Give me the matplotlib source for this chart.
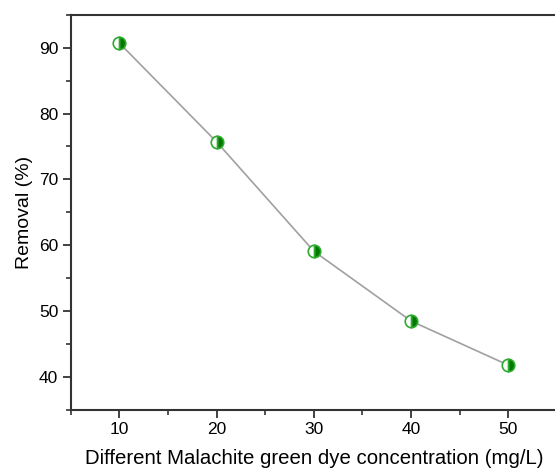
import matplotlib
matplotlib.use("Agg")
import matplotlib.pyplot as plt
from matplotlib.ticker import MultipleLocator

# Data
concentration = [10, 20, 30, 40, 50]
removal = [90.7, 75.7, 59.1, 48.5, 41.8]

plt.rcParams['font.family'] = ['Liberation Sans', 'DejaVu Sans']

fig = plt.figure(figsize=(5.55, 4.7), dpi=100)
ax = fig.add_axes([0.1274, 0.1277, 0.8762, 0.841])

ax.plot(concentration, removal, color='#a0a0a0', linewidth=1.2,
        marker='o', markersize=9, fillstyle='right',
        markerfacecolor='#007a00', markerfacecoloralt='white',
        markeredgecolor='#2eaa2e', markeredgewidth=1.2, zorder=3)

ax.set_xlim(5, 55)
ax.set_ylim(35, 95)
ax.xaxis.set_major_locator(MultipleLocator(10))
ax.xaxis.set_minor_locator(MultipleLocator(5))
ax.yaxis.set_major_locator(MultipleLocator(10))
ax.yaxis.set_minor_locator(MultipleLocator(5))

for side in ['left', 'bottom', 'top']:
    ax.spines[side].set_linewidth(1.5)
    ax.spines[side].set_color('#333333')
ax.spines['right'].set_visible(False)

ax.tick_params(which='major', direction='out', length=6, width=1.3,
               color='#333333', labelsize=12.5, pad=3)
ax.tick_params(which='minor', direction='out', length=3.5, width=1.2,
               color='#333333')
ax.tick_params(top=False, right=False, which='both')

ax.set_xlabel('Different Malachite green dye concentration (mg/L)', fontsize=14.7, labelpad=8)
ax.set_ylabel('Removal (%)', fontsize=14, labelpad=4)

fig.savefig('out.png', dpi=100)
